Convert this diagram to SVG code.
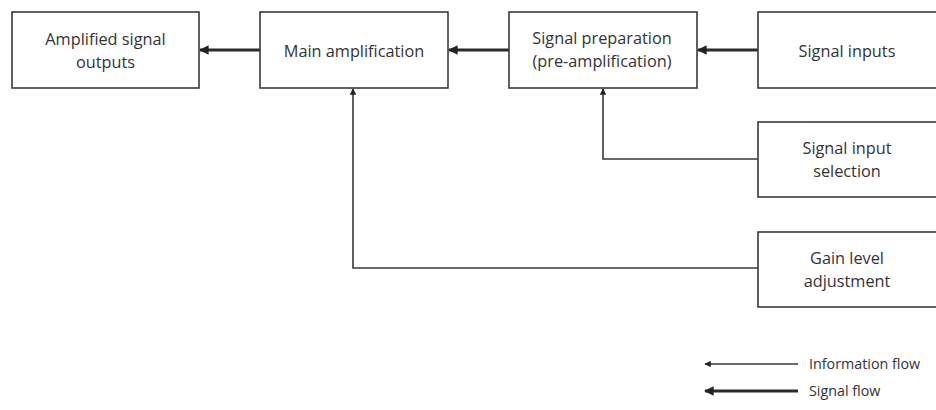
<svg xmlns="http://www.w3.org/2000/svg" width="936" height="410" viewBox="0 0 936 410">
  <style>
    .box { fill: #fff; stroke: #3a3a3a; stroke-width: 1.6; }
    .label { font-family: "Open Sans", "Noto Sans", sans-serif; font-size: 16.3px; fill: #333; text-anchor: middle; }
    .legend { font-family: "Open Sans", "Noto Sans", sans-serif; font-size: 14.3px; fill: #333; }
    .info { fill: none; stroke: #3a3a3a; stroke-width: 1.6; marker-end: url(#headSmall); }
    .sig { fill: none; stroke: #2a2a2a; stroke-width: 3.2; marker-end: url(#headBig); }
  </style>
  <defs>
    <marker id="headSmall" viewBox="0 0 10 10" refX="9" refY="5" markerWidth="4" markerHeight="4" orient="auto" markerUnits="strokeWidth">
      <path d="M0,0 L10,5 L0,10 z" fill="#222"/>
    </marker>
    <marker id="headBig" viewBox="0 0 10 10" refX="9" refY="5" markerWidth="3" markerHeight="3" orient="auto" markerUnits="strokeWidth">
      <path d="M0,0 L10,5 L0,10 z" fill="#222"/>
    </marker>
  </defs>
  <rect width="936" height="410" fill="#fff"/>

  <g id="connectors">
    <line class="sig" x1="260" y1="50" x2="200" y2="50"/>
    <line class="sig" x1="509" y1="50" x2="449" y2="50"/>
    <line class="sig" x1="758" y1="50" x2="698" y2="50"/>
    <polyline class="info" points="758,159 603,159 603,89"/>
    <polyline class="info" points="758,268 353,268 353,89"/>
  </g>

  <g id="amplified-outputs">
    <rect class="box" x="12" y="12" width="187" height="76"/>
    <text class="label" x="105.5" y="45">Amplified signal</text>
    <text class="label" x="105.5" y="68">outputs</text>
  </g>
  <g id="main-amplification">
    <rect class="box" x="260" y="12" width="188" height="76"/>
    <text class="label" x="354" y="57">Main amplification</text>
  </g>
  <g id="signal-preparation">
    <rect class="box" x="509" y="12" width="188" height="76"/>
    <text class="label" x="602" y="44">Signal preparation</text>
    <text class="label" x="602" y="67">(pre-amplification)</text>
  </g>
  <g id="signal-inputs">
    <rect class="box" x="758" y="12" width="190" height="76"/>
    <text class="label" x="847" y="57">Signal inputs</text>
  </g>
  <g id="input-selection">
    <rect class="box" x="758" y="122" width="190" height="75"/>
    <text class="label" x="847" y="154">Signal input</text>
    <text class="label" x="847" y="177">selection</text>
  </g>
  <g id="gain-adjustment">
    <rect class="box" x="758" y="232" width="190" height="75"/>
    <text class="label" x="847" y="264">Gain level</text>
    <text class="label" x="847" y="287">adjustment</text>
  </g>

  <g id="legend">
    <line class="info" x1="798" y1="364" x2="705" y2="364"/>
    <text class="legend" x="809" y="369">Information flow</text>
    <line class="sig" x1="798" y1="391" x2="705" y2="391"/>
    <text class="legend" x="809" y="396">Signal flow</text>
  </g>
</svg>
